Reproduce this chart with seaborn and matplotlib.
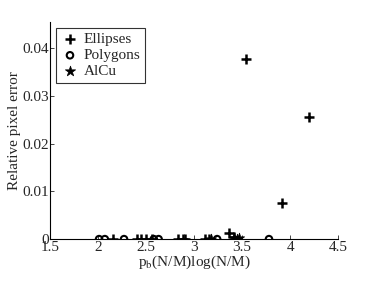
import matplotlib
matplotlib.use("Agg")
import matplotlib.pyplot as plt
import seaborn as sns
import pandas as pd

ell_x = [2.16, 2.40, 2.45, 2.50, 2.56, 2.83, 2.88, 2.91, 3.11, 3.15, 3.36, 3.42, 3.54, 3.92, 4.20]
ell_y = [0, 0, 0, 0, 0, 0, 0, 0, 0, 0, 0.0012, 0.0005, 0.0377, 0.0076, 0.0255]
pol_x = [2.01, 2.07, 2.27, 2.58, 2.63, 3.24, 3.78]
pol_y = [0, 0, 0, 0, 0, 0, 0]
alc_x = [3.18, 3.42, 3.45, 3.47]
alc_y = [0, 0.0003, 0, 0.0002]

x_ticks = [1.5, 2, 2.5, 3, 3.5, 4, 4.5]
x_labels = ["1.5", "2", "2.5", "3", "3.5", "4", "4.5"]
y_ticks = [0, 0.01, 0.02, 0.03, 0.04]
y_labels = ["0", "0.01", "0.02", "0.03", "0.04"]

sns.set_style("ticks")
plt.rcParams['font.family'] = ['Liberation Serif', 'DejaVu Serif']
plt.rcParams['mathtext.fontset'] = 'stix'

fig = plt.figure(figsize=(3.74, 2.81), dpi=100)
ax = fig.add_axes([0.134, 0.149, 0.770, 0.773])

sns.scatterplot(x=ell_x, y=ell_y, marker='+', s=45, color='black', linewidth=1.8,
                ax=ax, label='Ellipses', zorder=3)
sns.scatterplot(x=pol_x, y=pol_y, marker='o', s=22, facecolor='none', edgecolor='black',
                linewidth=1.5, ax=ax, label='Polygons', zorder=3)
sns.scatterplot(x=alc_x, y=alc_y, marker='*', s=60, color='black', edgecolor='black',
                linewidth=0.5, ax=ax, label='AlCu', zorder=3)

ax.set_xlim(1.5, 4.5)
ax.set_ylim(0, 0.0455)
ax.set_xticks(x_ticks)
ax.set_xticklabels(x_labels, fontsize=11)
ax.set_yticks(y_ticks)
ax.set_yticklabels(y_labels, fontsize=11)
ax.tick_params(direction='in', length=3, width=0.6, pad=1)
for s in ['top', 'right']:
    ax.spines[s].set_visible(False)
for s in ['left', 'bottom']:
    ax.spines[s].set_linewidth(0.8)
    ax.spines[s].set_color('black')
ax.set_xlabel(r"p$_\mathrm{b}$(N/M)log(N/M)", fontsize=11, labelpad=0)
ax.set_ylabel("Relative pixel error", fontsize=11, labelpad=1)

leg = ax.legend(loc='upper left', fontsize=11, frameon=True, fancybox=False,
                edgecolor='black', borderpad=0.3, handletextpad=0.3,
                labelspacing=0.15, handlelength=1.2, borderaxespad=0.4)
leg.get_frame().set_linewidth(0.8)

fig.savefig("out.png", dpi=100)
